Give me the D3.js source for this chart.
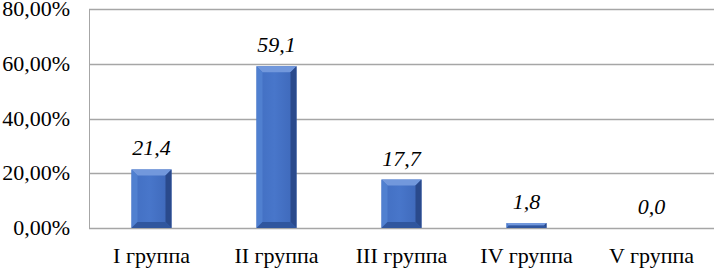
<!DOCTYPE html>
<html>
<head>
<meta charset="utf-8">
<script src="https://cdn.jsdelivr.net/npm/d3@7"></script>
<style>
	body { margin: 0; background: #fff; }
	#chart { position: relative; width: 714px; height: 268px; overflow: hidden; }
	#chart svg { position: absolute; left: 0; top: 0; }
	.lbl { position: absolute; font-family: "Liberation Serif", "Times New Roman", serif; font-size: 22px; line-height: 22px; color: #000; white-space: nowrap; }
	.val { font-style: italic; }
</style>
</head>
<body>
<div id="chart"></div>
<script>
//Data
const groups = ["I группа", "II группа", "III группа", "IV группа", "V группа"];
const shares = [21.4, 59.1, 17.7, 1.8, 0.0];
const yTicks = [0, 20, 40, 60, 80];
const yTickLabels = ["0,00%", "20,00%", "40,00%", "60,00%", "80,00%"];

//Layout
const W = 714, H = 268;
const plot = {left: 89, right: 714, top: 9, bottom: 228};

let wrap = d3.select("#chart");
let svg = wrap.append("svg")
	.attr("width", W)
	.attr("height", H);

let x = d3.scaleBand().domain(groups).range([plot.left, plot.right]).paddingInner(0.68).paddingOuter(0.34);
let y = d3.scaleLinear().domain([0, 80]).range([plot.bottom, plot.top]);

//gridlines
svg.append("g")
	.selectAll("line")
	.data(yTicks)
	.enter()
	.append("line")
	.attr("x1", plot.left)
	.attr("x2", plot.right)
	.attr("y1", d => Math.round(y(d)) + 0.5)
	.attr("y2", d => Math.round(y(d)) + 0.5)
	.attr("stroke", "#a6a6a6")
	.attr("stroke-width", 1.5);

//left axis line
svg.append("line")
	.attr("x1", plot.left + 0.5).attr("x2", plot.left + 0.5)
	.attr("y1", plot.top).attr("y2", plot.bottom + 1)
	.attr("stroke", "#a6a6a6")
	.attr("stroke-width", 1);

//bars with bevel
let defs = svg.append("defs");
let grad = defs.append("linearGradient").attr("id", "face").attr("x1", 0).attr("x2", 1).attr("y1", 0).attr("y2", 0);
grad.append("stop").attr("offset", "0%").attr("stop-color", "#426fc2");
grad.append("stop").attr("offset", "45%").attr("stop-color", "#4876ca");
grad.append("stop").attr("offset", "100%").attr("stop-color", "#3d67b8");

let bars = svg.append("g")
	.selectAll("g")
	.data(groups.map((g, i) => ({g: g, v: shares[i]})))
	.enter()
	.append("g");

bars.each(function(d) {
	let h = y(0) - y(d.v);
	if (h <= 0) return;
	let x0 = x(d.g), x1 = x0 + x.bandwidth();
	let y0 = y(d.v), y1 = y(0);
	let b = Math.min(6, h / 2, x.bandwidth() / 2);
	let g = d3.select(this);
	g.append("rect")
		.attr("x", x0).attr("y", y0)
		.attr("width", x1 - x0).attr("height", h)
		.attr("fill", "url(#face)");
	//top
	g.append("polygon")
		.attr("points", [[x0, y0], [x1, y0], [x1 - b, y0 + b], [x0 + b, y0 + b]].join(" "))
		.attr("fill", "#7298dc");
	//left
	g.append("polygon")
		.attr("points", [[x0, y0], [x0 + b, y0 + b], [x0 + b, y1 - b], [x0, y1]].join(" "))
		.attr("fill", "#5080d0");
	//right
	g.append("polygon")
		.attr("points", [[x1, y0], [x1 - b, y0 + b], [x1 - b, y1 - b], [x1, y1]].join(" "))
		.attr("fill", "#2a4a8c");
	//bottom
	g.append("polygon")
		.attr("points", [[x0, y1], [x0 + b, y1 - b], [x1 - b, y1 - b], [x1, y1]].join(" "))
		.attr("fill", "#30569e");
});

//labels as html text (serif font), line box 22px, baseline ~ 18px below top
const base = 18;

//y tick labels
wrap.selectAll("div.ytick")
	.data(yTicks)
	.enter()
	.append("div")
	.attr("class", "lbl ytick")
	.style("right", (W - 70) + "px")
	.style("top", d => (y(d) + 7 - base) + "px")
	.text((d, i) => yTickLabels[i]);

//category labels
wrap.selectAll("div.cat")
	.data(groups)
	.enter()
	.append("div")
	.attr("class", "lbl cat")
	.style("left", d => (x(d) + x.bandwidth() / 2) + "px")
	.style("top", (263 - base) + "px")
	.style("transform", "translateX(-50%)")
	.text(d => d);

//value labels
wrap.selectAll("div.val")
	.data(shares)
	.enter()
	.append("div")
	.attr("class", "lbl val")
	.style("left", (d, i) => (x(groups[i]) + x.bandwidth() / 2) + "px")
	.style("top", d => (y(d) - 14 - base) + "px")
	.style("transform", "translateX(-50%)")
	.text(d => d.toFixed(1).replace(".", ","));
</script>
</body>
</html>
